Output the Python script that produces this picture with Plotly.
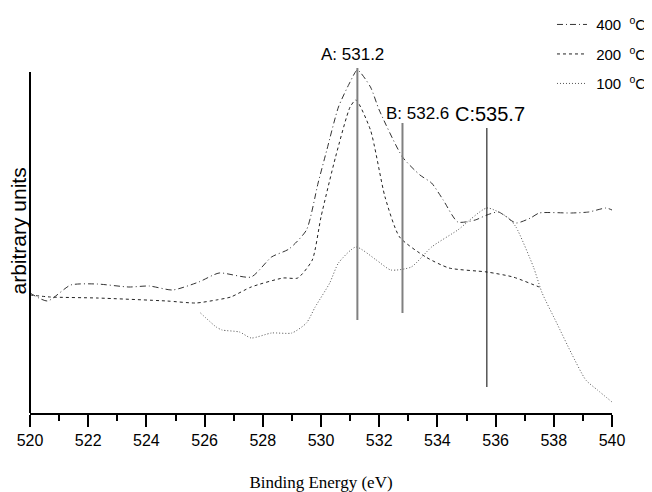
import plotly.graph_objects as go

# Binding energy (eV) and intensity (arbitrary units)
x400 = [520.0, 520.6, 521.4, 522.3, 523.4, 524.1, 524.9, 525.8, 526.5, 527.6, 528.3, 528.9,
        529.5, 529.9, 530.2, 530.6, 531.0, 531.25, 531.7, 532.0, 532.8, 533.4, 533.8, 534.2,
        534.7, 535.3, 535.7, 536.1, 536.7, 537.2, 537.5, 538.6, 539.2, 539.8, 540.0]
y400 = [114, 106, 122, 123, 120, 121, 117, 125, 134, 130, 150, 158,
        177, 224, 257, 300, 325, 337, 320, 297, 250, 232, 224, 207,
        185, 187, 192, 195, 184, 189, 194, 194, 195, 199, 197]

x200 = [520.0, 520.7, 522.3, 524.7, 525.7, 526.4, 526.9, 527.6, 528.7, 529.2, 529.7, 530.0,
        530.5, 531.0, 531.2, 531.7, 532.2, 532.7, 533.6, 534.4, 535.7, 536.6, 537.5, 537.6]
y200 = [112, 110, 109, 106, 104, 107, 110, 120, 129, 129, 147, 190,
        250, 300, 307, 277, 210, 170, 150, 139, 135, 130, 120, 119]

x100 = [525.86, 526.4, 526.6, 527.2, 527.6, 528.3, 529.0, 529.5, 529.8, 530.3, 530.6, 531.2,
        531.9, 532.4, 533.1, 533.8, 534.7, 535.7, 536.4, 536.7, 537.3, 537.6, 538.1, 538.6,
        539.1, 539.5, 540.0]
y100 = [94, 80, 77, 75, 69, 74, 74, 84, 100, 124, 144, 160,
        147, 137, 140, 160, 177, 199, 190, 180, 140, 114, 84, 54,
        27, 17, 5]

# Peak markers
peak_x = [531.25, 532.8, 535.7]
peak_top = [339, 284, 279]
peak_bottom = [87, 94, 20]
peak_labels = ["A: 531.2", "B: 532.6", "C:535.7"]
peak_label_x = [531.07, 533.30, 535.82]
peak_label_y = [353, 294, 293]
peak_label_size = [17, 17, 20]
peak_colors = ["#808080", "#808080", "#000000"]
peak_widths = [2, 2, 1]

series_names = ["400", "200", "100"]
x_ticks = list(range(520, 541, 2))

fig = go.Figure()
styles = [
    dict(color="#333333", width=1, dash="6px,3px,1px,3px"),
    dict(color="#222222", width=1, dash="3px,3px"),
    dict(color="#555555", width=1, dash="1px,2px"),
]
for xs, ys, nm, st, grp in zip([x400, x200, x100], [y400, y200, y100], series_names, styles, "abc"):
    fig.add_trace(go.Scatter(x=xs, y=ys, mode="lines",
                             name="&nbsp;" + nm + "&nbsp;&nbsp;<sup>o</sup>C", legendgroup=grp,
                             line=dict(shape="spline", smoothing=0.6, **st)))

for px, t, b, c, w in zip(peak_x, peak_top, peak_bottom, peak_colors, peak_widths):
    fig.add_trace(go.Scatter(x=[px, px], y=[b, t], mode="lines", showlegend=False,
                             line=dict(color=c, width=w), hoverinfo="skip"))

annotations = []
for lx, ly, txt, sz in zip(peak_label_x, peak_label_y, peak_labels, peak_label_size):
    annotations.append(dict(x=lx, y=ly, xref="x", yref="y", text=txt, showarrow=False,
                            xanchor="center", yanchor="middle",
                            font=dict(family="Liberation Sans, Arial", size=sz, color="black")))
annotations.append(dict(x=-0.019, y=0.456, xref="paper", yref="paper", text="arbitrary units",
                        textangle=-90, showarrow=False, xanchor="center", yanchor="middle",
                        font=dict(family="Liberation Sans, Arial", size=21, color="black")))

fig.update_layout(
    width=644, height=484,
    margin=dict(l=22, r=40, t=5, b=79, autoexpand=False),
    plot_bgcolor="white", paper_bgcolor="white",
    showlegend=True,
    legend=dict(x=0.8969, y=1.012, xanchor="left", yanchor="top", bgcolor="rgba(0,0,0,0)",
                font=dict(family="Liberation Sans, Arial", size=15, color="black"),
                itemwidth=30, tracegroupgap=7),
    annotations=annotations,
    shapes=[dict(type="line", xref="paper", yref="y", x0=0, x1=0, y0=-6, y1=335,
                 line=dict(color="black", width=2))],
    xaxis=dict(range=[520, 540], tickvals=x_ticks, ticks="outside", ticklen=12, tickwidth=2,
               tickcolor="black", showline=True, linecolor="black", linewidth=2,
               showgrid=False, zeroline=False, automargin=False,
               tickfont=dict(family="Liberation Sans, Arial", size=16, color="black"),
               minor=dict(dtick=1, ticks="outside", ticklen=6, tickwidth=2, tickcolor="black"),
               title=dict(text="Binding Energy (eV)", standoff=29,
                          font=dict(family="Liberation Serif, Times New Roman", size=17, color="black"))),
    yaxis=dict(range=[-6, 394], showticklabels=False, showgrid=False, zeroline=False,
               showline=False, ticks="", automargin=False),
)

fig.write_html("out.html")
